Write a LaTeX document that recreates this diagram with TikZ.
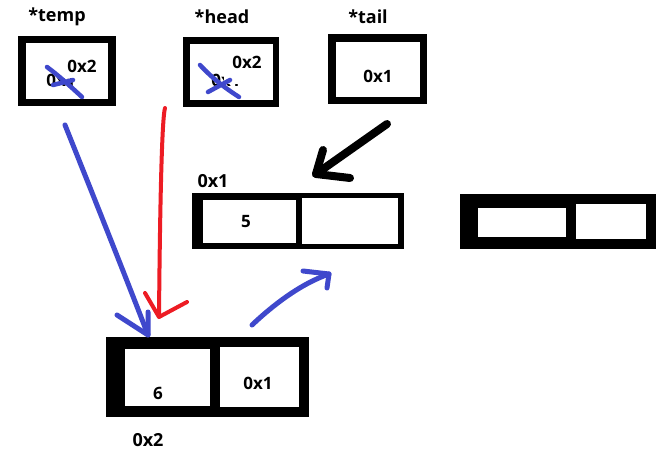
\documentclass[tikz,border=0pt]{standalone}
\usepackage{fontspec}
\setmainfont{Open Sans}
\begin{document}
\begin{tikzpicture}[x=1pt,y=-1pt]
\definecolor{pblue}{RGB}{63,72,204}
\definecolor{pred}{RGB}{237,28,36}
\tikzset{
 blk/.style={fill=black, draw=none, inner sep=0pt},
 wht/.style={fill=white, draw=none, inner sep=0pt},
 lbl/.style={font=\bfseries\fontsize{18}{20}\selectfont, inner sep=0pt},
 val/.style={font=\bfseries\fontsize{17}{19}\selectfont, inner sep=0pt},
 pen/.style={line cap=round, line join=round},
 bluepen/.style={pen, draw=pblue, line width=5pt},
 redpen/.style={pen, draw=pred, line width=4pt},
 blackpen/.style={pen, draw=black, line width=8pt},
}
\useasboundingbox[fill=white] (0,0) rectangle (661,457);

% titles
\node[lbl] (tTemp) at (57,17) {*temp};
\node[lbl] (tHead) at (222,17) {*head};
\node[lbl] (tTail) at (368,17) {*tail};

% pointer boxes
\node[blk, minimum width=98pt, minimum height=70pt] (tempO) at (67,71) {};
\node[wht, minimum width=82pt, minimum height=56pt] (tempI) at (67,71) {};
\node[blk, minimum width=96pt, minimum height=70pt] (headO) at (231,72) {};
\node[wht, minimum width=83pt, minimum height=56pt] (headI) at (231.5,72) {};
\node[blk, minimum width=99pt, minimum height=70pt] (tailO) at (377.5,69) {};
\node[wht, minimum width=84pt, minimum height=55pt] (tailI) at (378,69.5) {};

% values in pointer boxes
\node[val] (tempOld) at (61,80) {0x1};
\node[wht, minimum width=41pt, minimum height=23pt] (tempCov) at (79.5,66.5) {};
\node[val] (tempVal) at (82,66) {0x2};
\node[val] (headOld) at (226,80) {0x1};
\node[wht, minimum width=41pt, minimum height=32pt] (headCov) at (244.5,68) {};
\node[val] (headVal) at (247,62) {0x2};
\node[val] (tailVal) at (378,76) {0x1};

% blue crosses
\draw[bluepen, line width=4.5pt] (47,67) .. controls (58,75) and (70,86) .. (82,97);
\draw[bluepen, line width=4.5pt] (53,85) -- (73,80);
\draw[bluepen, line width=4.5pt] (200,65) .. controls (212,78) and (225,88) .. (239,97);
\draw[bluepen, line width=4.5pt] (208,92) -- (230,80);

% middle list node (0x1)
\node[lbl] (midAddr) at (213,181) {0x1};
\node[blk, minimum width=212pt, minimum height=56pt] (midO) at (298,221) {};
\node[wht, minimum width=93pt, minimum height=43pt] (midL) at (249.5,221.5) {};
\node[wht, minimum width=96pt, minimum height=46pt] (midR) at (350,221) {};
\node[val] (midVal) at (246,222) {5};

% right list node
\node[blk, minimum width=196pt, minimum height=55pt] (rO) at (558,221.5) {};
\node[wht, minimum width=88pt, minimum height=29pt] (rL) at (522,222.5) {};
\node[wht, minimum width=70pt, minimum height=35pt] (rR) at (611,221.5) {};

% bottom list node (0x2)
\node[blk, minimum width=203pt, minimum height=80pt] (botO) at (207.5,377) {};
\node[wht, minimum width=85pt, minimum height=57pt] (botL) at (167.5,377.5) {};
\node[wht, minimum width=79pt, minimum height=60pt] (botR) at (259.5,377) {};
\node[val] (botVal) at (158,393) {6};
\node[val] (botNext) at (258,383) {0x1};
\node[lbl] (botAddr) at (148,440) {0x2};

% arrow coordinates
\coordinate (tailS) at (387,124);
\coordinate (tailT) at (316,174);
\coordinate (tailA1) at (323,150);
\coordinate (tailA2) at (350,178);
\coordinate (redS) at (165,108);
\coordinate (redT) at (159,317);
\coordinate (redA1) at (145,293);
\coordinate (redA2) at (187,302);
\coordinate (tmpS) at (65,125);
\coordinate (tmpT) at (148,335);
\coordinate (tmpA1) at (117,315);
\coordinate (tmpA2) at (148,312);
\coordinate (nxtS) at (252,325);
\coordinate (nxtT) at (329,274);
\coordinate (nxtA1) at (303,271);
\coordinate (nxtA2) at (327,288);

% tail -> middle node
\draw[blackpen] (tailS) -- (tailT);
\draw[blackpen] (tailA1) -- (tailT) -- (tailA2);

% head -> bottom node (red)
\draw[redpen] (redS) .. controls (162,118) and (160,200) .. (redT);
\draw[redpen] (redA1) -- (redT) -- (redA2);

% temp -> bottom node (blue)
\draw[bluepen] (tmpS) .. controls (85,175) and (125,275) .. (tmpT);
\draw[bluepen] (tmpA1) -- (tmpT) -- (tmpA2);

% bottom next -> middle node (blue)
\draw[bluepen] (nxtS) .. controls (272,306) and (300,284) .. (nxtT);
\draw[bluepen] (nxtA1) -- (nxtT) -- (nxtA2);
\end{tikzpicture}
\end{document}
